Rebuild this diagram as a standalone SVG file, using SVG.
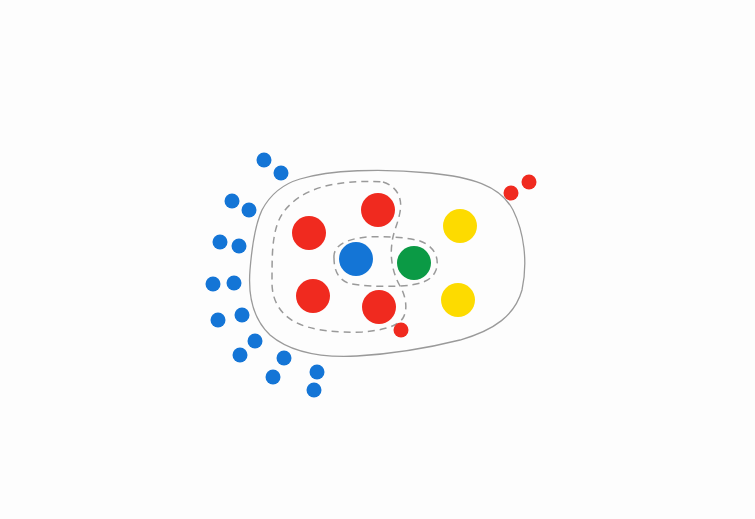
<svg xmlns="http://www.w3.org/2000/svg" width="755" height="519" viewBox="0 0 755 519">
<style>
.r{fill:#f02a1f}.b{fill:#1475d6}.g{fill:#0b9a45}.y{fill:#fddb00}
.line{fill:none;stroke:#9a9a9a;stroke-width:1.3}
.dash{fill:none;stroke:#9a9a9a;stroke-width:1.5;stroke-dasharray:7 5}
</style>
<rect width="755" height="519" fill="#fdfdfd"/>
<g id="outer-boundary">
<path class="line" d="M300,179 C330,170 380,168 430,173 C470,177 500,185 513,210 C524,232 528,262 522,290 C515,315 495,330 460,340 C420,350 390,354 357,356 C320,358 290,352 270,335 C252,318 248,295 250,270 C252,245 255,225 262,210 C270,195 283,184 300,179 Z"/>
</g>
<g id="dashed-region">
<path class="dash" d="M383,182 C396,186 403,197 400,212 C398,224 393,232 392,243 C390,256 392,272 400,286 C406,296 408,310 403,318 C398,326 385,330 362,332 C335,333 310,330 295,322 C280,314 272,300 272,283 C272,265 272,250 274,238 C276,225 280,213 292,203 C300,195 315,188 330,185 C350,181 370,181 383,182"/>
</g>
<g id="inner-dashed">
<path class="dash" d="M334,258 C333,246 345,239 367,237 C385,236 405,237 420,241 C434,246 440,258 436,270 C432,281 420,285 400,286 C380,287 360,286 348,283 C338,279 334,270 334,258 Z"/>
</g>
<g id="inside">
<circle class="r" cx="378" cy="210" r="17"/>
<circle class="r" cx="309" cy="233" r="17"/>
<circle class="r" cx="313" cy="296" r="17"/>
<circle class="r" cx="379" cy="307" r="17"/>
<circle class="b" cx="356" cy="259" r="17"/>
<circle class="g" cx="414" cy="263" r="17"/>
<circle class="y" cx="460" cy="226" r="17"/>
<circle class="y" cx="458" cy="300" r="17"/>
</g>
<g id="small-red">
<circle class="r" cx="401" cy="330" r="7.5"/>
<circle class="r" cx="511" cy="193" r="7.5"/>
<circle class="r" cx="529" cy="182" r="7.5"/>
</g>
<g id="outside-blue">
<circle class="b" cx="264" cy="160" r="7.5"/>
<circle class="b" cx="281" cy="173" r="7.5"/>
<circle class="b" cx="232" cy="201" r="7.5"/>
<circle class="b" cx="249" cy="210" r="7.5"/>
<circle class="b" cx="220" cy="242" r="7.5"/>
<circle class="b" cx="239" cy="246" r="7.5"/>
<circle class="b" cx="213" cy="284" r="7.5"/>
<circle class="b" cx="234" cy="283" r="7.5"/>
<circle class="b" cx="218" cy="320" r="7.5"/>
<circle class="b" cx="242" cy="315" r="7.5"/>
<circle class="b" cx="255" cy="341" r="7.5"/>
<circle class="b" cx="240" cy="355" r="7.5"/>
<circle class="b" cx="284" cy="358" r="7.5"/>
<circle class="b" cx="273" cy="377" r="7.5"/>
<circle class="b" cx="317" cy="372" r="7.5"/>
<circle class="b" cx="314" cy="390" r="7.5"/>
</g>
</svg>
